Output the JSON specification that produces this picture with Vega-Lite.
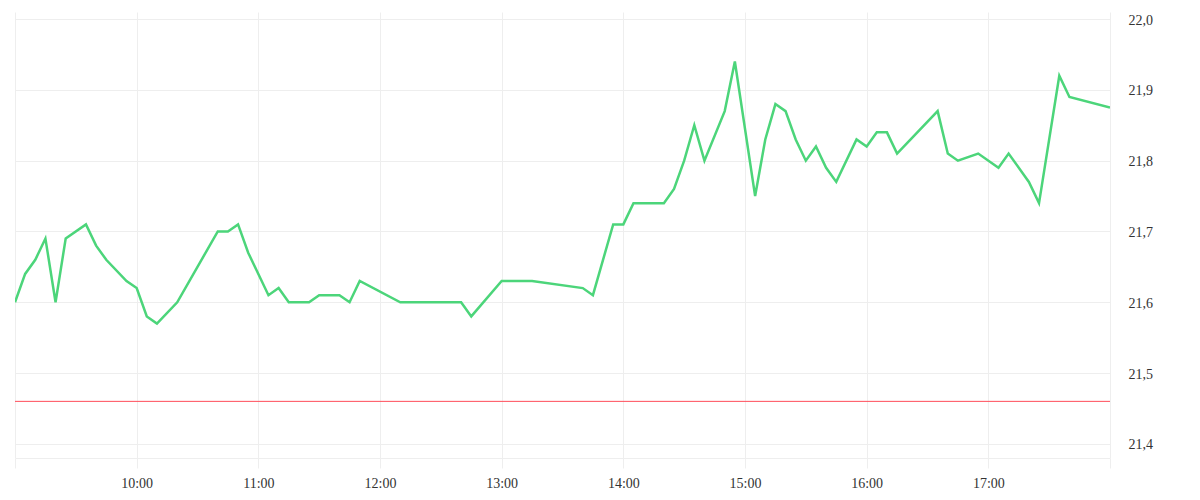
{
  "$schema": "https://vega.github.io/schema/vega-lite/v6.json",
  "width": 1095,
  "height": 446,
  "autosize": {"type": "none"},
  "padding": {"left": 15, "top": 12, "right": 90, "bottom": 42},
  "background": "white",
  "datasets": {
    "temps": [
      {"time": "2024-03-04T09:00", "value": 21.60},
      {"time": "2024-03-04T09:05", "value": 21.64},
      {"time": "2024-03-04T09:10", "value": 21.66},
      {"time": "2024-03-04T09:15", "value": 21.69},
      {"time": "2024-03-04T09:20", "value": 21.60},
      {"time": "2024-03-04T09:25", "value": 21.69},
      {"time": "2024-03-04T09:35", "value": 21.71},
      {"time": "2024-03-04T09:40", "value": 21.68},
      {"time": "2024-03-04T09:45", "value": 21.66},
      {"time": "2024-03-04T09:55", "value": 21.63},
      {"time": "2024-03-04T10:00", "value": 21.62},
      {"time": "2024-03-04T10:05", "value": 21.58},
      {"time": "2024-03-04T10:10", "value": 21.57},
      {"time": "2024-03-04T10:20", "value": 21.60},
      {"time": "2024-03-04T10:40", "value": 21.70},
      {"time": "2024-03-04T10:45", "value": 21.70},
      {"time": "2024-03-04T10:50", "value": 21.71},
      {"time": "2024-03-04T10:55", "value": 21.67},
      {"time": "2024-03-04T11:05", "value": 21.61},
      {"time": "2024-03-04T11:10", "value": 21.62},
      {"time": "2024-03-04T11:15", "value": 21.60},
      {"time": "2024-03-04T11:25", "value": 21.60},
      {"time": "2024-03-04T11:30", "value": 21.61},
      {"time": "2024-03-04T11:40", "value": 21.61},
      {"time": "2024-03-04T11:45", "value": 21.60},
      {"time": "2024-03-04T11:50", "value": 21.63},
      {"time": "2024-03-04T12:10", "value": 21.60},
      {"time": "2024-03-04T12:40", "value": 21.60},
      {"time": "2024-03-04T12:45", "value": 21.58},
      {"time": "2024-03-04T13:00", "value": 21.63},
      {"time": "2024-03-04T13:15", "value": 21.63},
      {"time": "2024-03-04T13:40", "value": 21.62},
      {"time": "2024-03-04T13:45", "value": 21.61},
      {"time": "2024-03-04T13:55", "value": 21.71},
      {"time": "2024-03-04T14:00", "value": 21.71},
      {"time": "2024-03-04T14:05", "value": 21.74},
      {"time": "2024-03-04T14:20", "value": 21.74},
      {"time": "2024-03-04T14:25", "value": 21.76},
      {"time": "2024-03-04T14:30", "value": 21.80},
      {"time": "2024-03-04T14:35", "value": 21.85},
      {"time": "2024-03-04T14:40", "value": 21.80},
      {"time": "2024-03-04T14:50", "value": 21.87},
      {"time": "2024-03-04T14:55", "value": 21.94},
      {"time": "2024-03-04T15:05", "value": 21.75},
      {"time": "2024-03-04T15:10", "value": 21.83},
      {"time": "2024-03-04T15:15", "value": 21.88},
      {"time": "2024-03-04T15:20", "value": 21.87},
      {"time": "2024-03-04T15:25", "value": 21.83},
      {"time": "2024-03-04T15:30", "value": 21.80},
      {"time": "2024-03-04T15:35", "value": 21.82},
      {"time": "2024-03-04T15:40", "value": 21.79},
      {"time": "2024-03-04T15:45", "value": 21.77},
      {"time": "2024-03-04T15:55", "value": 21.83},
      {"time": "2024-03-04T16:00", "value": 21.82},
      {"time": "2024-03-04T16:05", "value": 21.84},
      {"time": "2024-03-04T16:10", "value": 21.84},
      {"time": "2024-03-04T16:15", "value": 21.81},
      {"time": "2024-03-04T16:35", "value": 21.87},
      {"time": "2024-03-04T16:40", "value": 21.81},
      {"time": "2024-03-04T16:45", "value": 21.80},
      {"time": "2024-03-04T16:55", "value": 21.81},
      {"time": "2024-03-04T17:05", "value": 21.79},
      {"time": "2024-03-04T17:10", "value": 21.81},
      {"time": "2024-03-04T17:20", "value": 21.77},
      {"time": "2024-03-04T17:25", "value": 21.74},
      {"time": "2024-03-04T17:35", "value": 21.92},
      {"time": "2024-03-04T17:40", "value": 21.89},
      {"time": "2024-03-04T18:00", "value": 21.875}
    ],
    "limit": [{"threshold": 21.46}]
  },
  "layer": [
    {
      "data": {"name": "temps"},
      "mark": {"type": "line", "color": "#4cd57a", "strokeWidth": 2.5, "clip": true},
      "encoding": {
        "x": {
          "field": "time",
          "type": "temporal",
          "title": null,
          "scale": {
            "domain": [
              {"year": 2024, "month": 3, "date": 4, "hours": 9},
              {"year": 2024, "month": 3, "date": 4, "hours": 18}
            ],
            "nice": false
          },
          "axis": {
            "values": [
              {"year": 2024, "month": 3, "date": 4, "hours": 9},
              {"year": 2024, "month": 3, "date": 4, "hours": 10},
              {"year": 2024, "month": 3, "date": 4, "hours": 11},
              {"year": 2024, "month": 3, "date": 4, "hours": 12},
              {"year": 2024, "month": 3, "date": 4, "hours": 13},
              {"year": 2024, "month": 3, "date": 4, "hours": 14},
              {"year": 2024, "month": 3, "date": 4, "hours": 15},
              {"year": 2024, "month": 3, "date": 4, "hours": 16},
              {"year": 2024, "month": 3, "date": 4, "hours": 17},
              {"year": 2024, "month": 3, "date": 4, "hours": 18}
            ],
            "labelExpr": "hours(datum.value) == 9 || hours(datum.value) == 18 ? '' : timeFormat(datum.value, '%H:%M')",
            "grid": true,
            "gridColor": "#eeeeee",
            "domainColor": "#eeeeee",
            "tickColor": "#eeeeee",
            "tickSize": 10,
            "labelPadding": 8,
            "labelFlush": false,
            "labelOverlap": false
          }
        },
        "y": {
          "field": "value",
          "type": "quantitative",
          "title": null,
          "scale": {"domain": [21.38, 22.01], "nice": false, "zero": false},
          "axis": {
            "orient": "right",
            "values": [21.4, 21.5, 21.6, 21.7, 21.8, 21.9, 22.0],
            "labelExpr": "replace(format(datum.value, '.1f'), '.', ',')",
            "grid": true,
            "gridColor": "#eeeeee",
            "domain": false,
            "ticks": false,
            "labelPadding": 18,
            "labelOffset": 1
          }
        }
      }
    },
    {
      "data": {"name": "limit"},
      "mark": {"type": "rule", "color": "#ff4d5a", "strokeWidth": 1},
      "encoding": {
        "y": {"field": "threshold", "type": "quantitative"}
      }
    }
  ],
  "config": {
    "view": {"stroke": null},
    "axis": {
      "labelFont": "serif",
      "labelFontSize": 14,
      "labelColor": "#333333"
    }
  }
}
